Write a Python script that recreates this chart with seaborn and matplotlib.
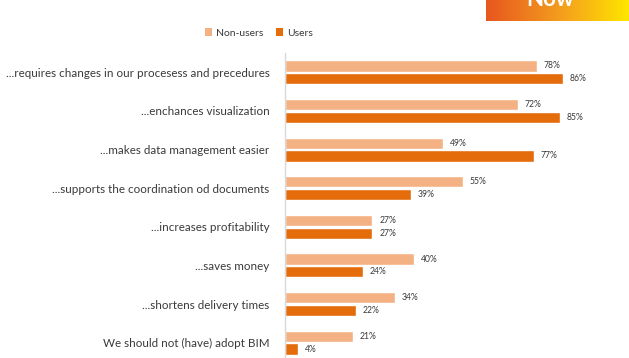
import numpy as np
import pandas as pd
import matplotlib
matplotlib.use("Agg")
import matplotlib.pyplot as plt
import seaborn as sns
from matplotlib.patches import Patch
from matplotlib.colors import LinearSegmentedColormap

categories = [
    "...requires changes in our procesess and precedures",
    "...enchances visualization",
    "...makes data management easier",
    "...supports the coordination od documents",
    "...increases profitability",
    "...saves money",
    "...shortens delivery times",
    "We should not (have) adopt BIM",
]
non_users = [78, 72, 49, 55, 27, 40, 34, 21]
users = [86, 85, 77, 39, 27, 24, 22, 4]
series = ["Non-users", "Users"]
colors = ["#F4B183", "#E46C0A"]

df = pd.DataFrame({
    "category": categories * 2,
    "value": non_users + users,
    "group": [series[0]] * len(categories) + [series[1]] * len(categories),
})

sns.set_theme(style="white")
plt.rcParams["font.family"] = ["Lato", "DejaVu Sans"]
text_color = "#3A3A3A"

fig = plt.figure(figsize=(6.29, 3.58), dpi=100)
ax = fig.add_axes([285 / 629, 1 - 362 / 358, 323 / 629, 309 / 358])

sns.barplot(data=df, y="category", x="value", hue="group", order=categories,
            hue_order=series, palette=colors, orient="h", width=0.66, gap=0.12,
            ax=ax, legend=False, saturation=1)

ax.set_xlim(0, 100)
ax.set_xlabel("")
ax.set_ylabel("")
ax.set_xticks([])
for s in ["top", "right", "bottom"]:
    ax.spines[s].set_visible(False)
ax.spines["left"].set_color("#D9D9D9")
ax.spines["left"].set_linewidth(1.0)
ax.tick_params(axis="y", length=0, pad=11, labelsize=8.4, labelcolor=text_color)

for cont in ax.containers:
    ax.bar_label(cont, labels=[f"{int(v)}%" for v in cont.datavalues],
                 padding=5, fontsize=6.2, color=text_color)

handles = [Patch(facecolor=c, edgecolor="none") for c in colors]
fig.legend(handles, series, loc="center", bbox_to_anchor=(259 / 629, 1 - 33 / 358),
           ncol=2, frameon=False, fontsize=7.5, handlelength=0.7, handleheight=0.7,
           handletextpad=0.4, columnspacing=1.2, labelcolor=text_color)

# decorative gradient box at top right
grad = np.linspace(0, 1, 256).reshape(1, -1)
cmap = LinearSegmentedColormap.from_list("og", ["#E8561E", "#F39A1F", "#FFE600"])
gax = fig.add_axes([486 / 629, 1 - 21 / 358, 143 / 629, 21 / 358])
gax.imshow(grad, aspect="auto", cmap=cmap, extent=[0, 1, 0, 1])
gax.axis("off")
gax.text(0.45, 0.5, "Now", color="white", fontsize=16, ha="center", va="bottom",
         fontweight="bold", transform=gax.transAxes, clip_on=False)

fig.savefig("out.png", dpi=100)
